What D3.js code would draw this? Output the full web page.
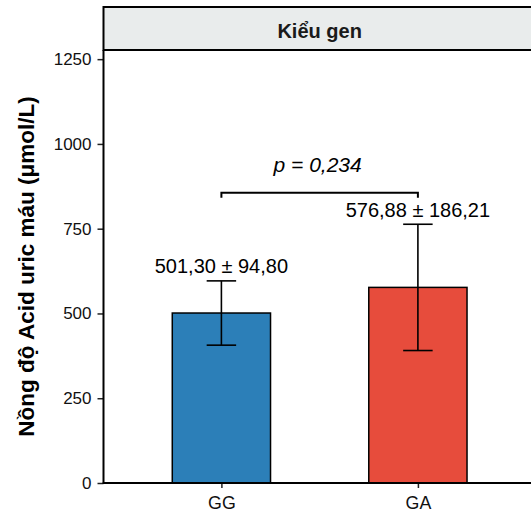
<!DOCTYPE html>
<html>
<head>
<meta charset="utf-8">
<script src="https://cdn.jsdelivr.net/npm/d3@7"></script>
<style>
  html, body { margin: 0; padding: 0; background: #fff; }
  svg { display: block; font-family: "Liberation Sans", Arial, Helvetica, sans-serif; }
</style>
</head>
<body>
<svg id="chart" width="531" height="512"></svg>
<script>
// ---- data ----
const categories = ["GG", "GA"];
const means = [501.30, 576.88];
const sds = [94.80, 186.21];
const barColors = ["#2C7FB8", "#E74C3C"];
const meanLabels = ["501,30 ± 94,80", "576,88 ± 186,21"];
const yTicks = [0, 250, 500, 750, 1000, 1250];
const pLabel = "p = 0,234";
const bracketValue = 856;
const stripTitle = "Kiểu gen";
const yTitle = "Nồng độ Acid uric máu (μmol/L)";

// ---- layout ----
const svg = d3.select("#chart");
const panel = { left: 103.5, right: 535.8, top: 50, bottom: 483 };

const x = d3.scalePoint()
  .domain(categories)
  .range([panel.left, panel.right])
  .padding(0.6);
const step = x.step();
const barW = step * 0.5;
const capW = step * 0.15;

const y = d3.scaleLinear()
  .domain([0, 1277])
  .range([panel.bottom, panel.top]);

// strip
svg.append("rect")
  .attr("x", panel.left).attr("y", 7)
  .attr("width", 540 - panel.left).attr("height", panel.top - 7)
  .attr("fill", "#E9ECEC").attr("stroke", "#000").attr("stroke-width", 2);
svg.append("text")
  .attr("x", (panel.left + panel.right) / 2).attr("y", 38)
  .attr("text-anchor", "middle")
  .attr("font-size", 20).attr("font-weight", "bold").attr("fill", "#1a1a1a")
  .text(stripTitle);

// bars
const data = categories.map((c, i) => ({ c, m: means[i], sd: sds[i], col: barColors[i], lab: meanLabels[i] }));

svg.append("g").selectAll("rect").data(data).join("rect")
  .attr("x", d => x(d.c) - barW / 2)
  .attr("y", d => y(d.m))
  .attr("width", barW)
  .attr("height", d => y(0) - y(d.m))
  .attr("fill", d => d.col)
  .attr("stroke", "#000").attr("stroke-width", 1.5);

// error bars
const eb = svg.append("g").attr("stroke", "#000").attr("stroke-width", 1.6);
data.forEach(d => {
  const cx = x(d.c);
  eb.append("line").attr("x1", cx).attr("x2", cx).attr("y1", y(d.m - d.sd)).attr("y2", y(d.m + d.sd));
  eb.append("line").attr("x1", cx - capW / 2).attr("x2", cx + capW / 2).attr("y1", y(d.m + d.sd)).attr("y2", y(d.m + d.sd));
  eb.append("line").attr("x1", cx - capW / 2).attr("x2", cx + capW / 2).attr("y1", y(d.m - d.sd)).attr("y2", y(d.m - d.sd));
});

// value labels
svg.append("g").selectAll("text").data(data).join("text")
  .attr("x", d => x(d.c))
  .attr("y", d => y(d.m + d.sd) - 7.5)
  .attr("text-anchor", "middle")
  .attr("font-size", 20).attr("fill", "#000")
  .text(d => d.lab);

// bracket
const bx1 = x(categories[0]), bx2 = x(categories[1]), by = y(bracketValue);
svg.append("path")
  .attr("d", `M${bx1},${by + 5}V${by}H${bx2}V${by + 5}`)
  .attr("fill", "none").attr("stroke", "#000").attr("stroke-width", 2);
svg.append("text")
  .attr("x", (bx1 + bx2) / 2 - 2).attr("y", by - 21)
  .attr("text-anchor", "middle")
  .attr("font-size", 21).attr("font-style", "italic").attr("fill", "#000")
  .text(pLabel);

// axes
const yAxis = d3.axisLeft(y).tickValues(yTicks).tickSize(6).tickPadding(6).tickFormat(d3.format("d"));
const gy = svg.append("g").attr("transform", `translate(${panel.left},0)`).call(yAxis);
gy.select(".domain").remove();
gy.selectAll(".tick line").attr("stroke", "#222").attr("stroke-width", 1.5);
gy.selectAll(".tick text").attr("font-size", 17).attr("fill", "#111").attr("font-family", "Liberation Sans, Arial, sans-serif");

const xAxis = d3.axisBottom(x).tickSize(5).tickPadding(8);
const gx = svg.append("g").attr("transform", `translate(0,${panel.bottom})`).call(xAxis);
gx.select(".domain").remove();
gx.selectAll(".tick line").attr("stroke", "#222").attr("stroke-width", 1.5);
gx.selectAll(".tick text").attr("font-size", 17.8).attr("fill", "#111").attr("font-family", "Liberation Sans, Arial, sans-serif");

// axis lines
svg.append("line").attr("x1", panel.left).attr("x2", panel.left).attr("y1", panel.top).attr("y2", panel.bottom + 0.75)
  .attr("stroke", "#000").attr("stroke-width", 2);
svg.append("line").attr("x1", panel.left - 0.75).attr("x2", 540).attr("y1", panel.bottom).attr("y2", panel.bottom)
  .attr("stroke", "#000").attr("stroke-width", 2);

// y title
svg.append("text")
  .attr("transform", `translate(34,${(panel.top + panel.bottom) / 2}) rotate(-90)`)
  .attr("text-anchor", "middle")
  .attr("font-size", 22.5).attr("font-weight", "bold").attr("fill", "#000")
  .text(yTitle);
</script>
</body>
</html>
